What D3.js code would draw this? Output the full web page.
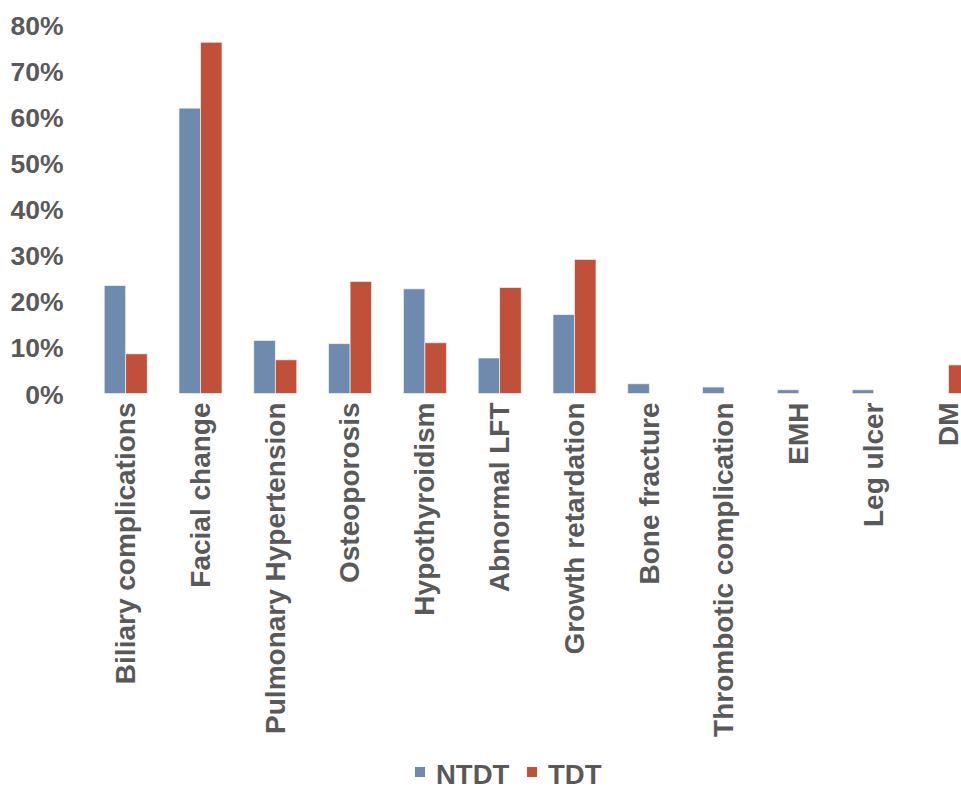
<!DOCTYPE html>
<html><head><meta charset="utf-8">
<script src="https://cdn.jsdelivr.net/npm/d3@7"></script>
<style>body{margin:0;background:#fff;overflow:hidden}</style>
</head><body>
<svg id="c" width="961" height="787"></svg>
<script>
const categories = ["Biliary complications","Facial change","Pulmonary Hypertension","Osteoporosis","Hypothyroidism","Abnormal LFT","Growth retardation","Bone fracture","Thrombotic complication","EMH","Leg ulcer","DM"];
const seriesNames = ["NTDT","TDT"];
const ntdt = [23.4,61.9,11.5,10.8,22.7,7.7,17.1,2.1,1.4,0.8,0.8,0];
const tdt  = [8.6,76.2,7.3,24.3,11.0,23.0,29.1,0,0,0,0,6.2];
const yTicks = [0,10,20,30,40,50,60,70,80];
const colors = ["#6f8aaf","#c0503a"];

const svg = d3.select("#c");
const font = "'Liberation Sans', Arial, sans-serif";
const plotLeft = 88.3, plotRight = 88.3 + 12*74.8, plotBase = 393.5, plotTop = 24.7;
const x = d3.scaleBand().domain(categories).range([plotLeft, plotRight]).paddingInner(0.425).paddingOuter(0.2125);
const xs = d3.scaleBand().domain(seriesNames).range([0, x.bandwidth()]);
const y = d3.scaleLinear().domain([0,80]).range([plotBase, plotTop]);

const data = categories.map((c,i)=>({c, v:[ntdt[i], tdt[i]]}));
const g = svg.append("g");
g.selectAll("g.cat").data(data).join("g").attr("class","cat")
  .attr("transform", d=>`translate(${x(d.c)},0)`)
  .selectAll("rect").data(d=>d.v.map((v,j)=>({v,s:seriesNames[j],j})).filter(e=>e.v>0)).join("rect")
  .attr("x", e=>xs(e.s)).attr("width", xs.bandwidth())
  .attr("y", e=>y(e.v)).attr("height", e=>plotBase - y(e.v))
  .attr("fill", e=>colors[e.j]).attr("stroke","#f2f2f2").attr("stroke-width",0.7);

// y axis
const ya = svg.append("g").attr("transform",`translate(63.5,0)`)
  .call(d3.axisLeft(y).tickValues(yTicks).tickFormat(d=>d+"%").tickSize(0).tickPadding(0));
ya.select(".domain").remove();
ya.selectAll("text").attr("font-family",font).attr("font-size",26.5).attr("font-weight","bold").attr("fill","#595959").attr("dy","0.36em");

// x axis
const xa = svg.append("g").attr("transform",`translate(0,${plotBase})`)
  .call(d3.axisBottom(x).tickSize(0).tickPadding(0));
xa.select(".domain").remove();
xa.selectAll("text")
  .attr("font-family",font).attr("font-size",28).attr("font-weight","bold").attr("fill","#595959")
  .attr("text-anchor","end").attr("transform","rotate(-90)")
  .attr("x",-9).attr("y",0).attr("dy","0.33em");

// legend
const leg = svg.append("g");
const items = [{n:"NTDT",x:415,c:colors[0]},{n:"TDT",x:527,c:colors[1]}];
items.forEach(it=>{
  leg.append("rect").attr("x",it.x).attr("y",767).attr("width",10).attr("height",10).attr("fill",it.c);
  leg.append("text").attr("x",it.x+21).attr("y",784).text(it.n)
    .attr("font-family",font).attr("font-size",27.5).attr("font-weight","bold").attr("fill","#595959");
});
</script>
</body></html>
